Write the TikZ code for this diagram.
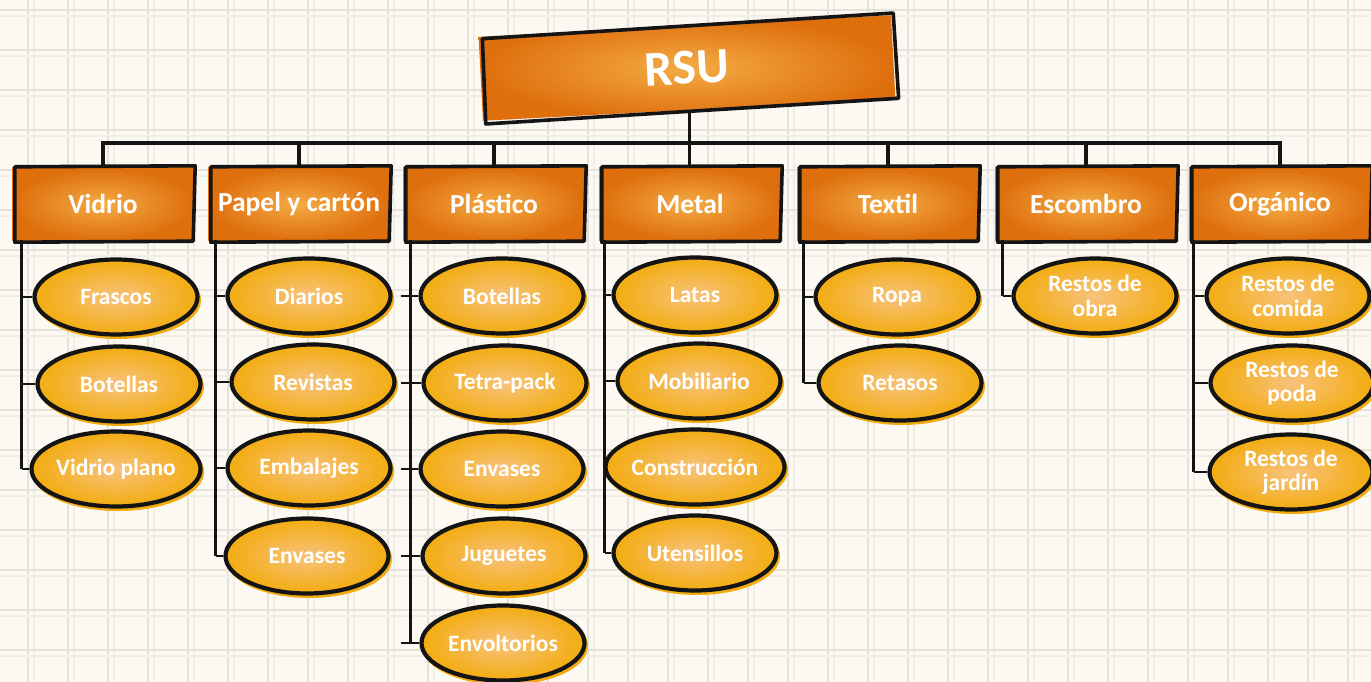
\documentclass[tikz,border=0pt]{standalone}
\usepackage{fontspec}
\setmainfont{Carlito}
\usetikzlibrary{calc,shapes.geometric}
\definecolor{paper}{HTML}{FCF9F3}
\definecolor{gridc}{HTML}{E5E1DB}
\definecolor{gridl}{HTML}{F1EDE7}
\definecolor{orEdge}{HTML}{DF6E0D}
\definecolor{orMid}{HTML}{F3AB45}
\definecolor{yeEdge}{HTML}{F3AC10}
\definecolor{yeMid}{HTML}{F7C27C}
\definecolor{ink}{HTML}{141414}
\tikzset{
  rootbox/.style={rectangle, minimum width=413pt, minimum height=84pt, inner sep=0pt,
    shading=radial, inner color=orMid, outer color=orEdge, text=white,
    font=\bfseries\fontsize{50}{50}\selectfont},
  catbox/.style={rectangle, minimum width=182pt, minimum height=72pt, inner sep=0pt,
    shading=radial, inner color=orMid, outer color=orEdge, text=white,
    font=\bfseries\fontsize{27.5}{27}\selectfont},
  leaf/.style={ellipse, minimum width=163pt, minimum height=75pt, inner sep=0pt,
    draw=ink, line width=4.2pt, shading=radial, inner color=yeMid, outer color=yeEdge,
    preaction={draw=yeEdge, line width=3pt, transform canvas={shift={(2pt,-3pt)}}},
    text=white, font=\bfseries\fontsize{23.5}{24.5}\selectfont, align=center},
  outline/.style={draw=ink, line width=3.6pt, line join=round},
  link/.style={draw=ink, line width=3.3pt},
  tick/.style={draw=ink, line width=2.4pt},
  gridmain/.style={draw=gridc, line width=1.8pt},
  gridsub/.style={draw=gridl, line width=1.4pt},
}
\newcommand\skbox[1]{\draw[outline] ($(#1.north west)+(3,-1)$) -- ($(#1.north east)+(1,-2)$) -- ($(#1.south east)+(-1,1)$) -- ($(#1.south west)+(3,2)$) -- cycle;}
\begin{document}
\begin{tikzpicture}[x=1pt,y=-1pt]
\useasboundingbox (0,0) rectangle (1371,682);
\fill[paper] (0,0) rectangle (1371,682);
\foreach \x in {28,68,...,1371} {\draw[gridsub] (\x+6,0) -- (\x+6,682); \draw[gridmain] (\x,0) -- (\x,682);}
\foreach \y in {10,50,...,682} {\draw[gridsub] (0,\y+6) -- (1371,\y+6); \draw[gridmain] (0,\y) -- (1371,\y);}

% root
\node[rootbox, rotate=3] (rsu) at (687,68) {RSU};
\draw[outline] ($(rsu.north west)+(4,2)$) -- ($(rsu.north east)+(2,-2)$) -- ($(rsu.south east)+(3,-1)$) -- ($(rsu.south west)+(3,3)$) -- cycle;

% categories
\node[catbox] (vid) at (103,204) {Vidrio};
\node[catbox] (pap) at (299,204) {Papel y cartón};
\node[catbox] (pla) at (494,204) {Plástico};
\node[catbox] (met) at (690,204) {Metal};
\node[catbox] (tex) at (888,204) {Textil};
\node[catbox] (esc) at (1086,204) {Escombro};
\node[catbox] (org) at (1280,204) {Orgánico};
\foreach \n in {vid,pap,pla,met,tex,esc,org} {\skbox{\n}}

% bus
\coordinate (bus) at (0,143);
\draw[link] (vid.north) -- (vid.north |- bus) -- (org.north |- bus) -- (org.north);
\foreach \n in {pap,pla,tex,esc} {\draw[link] (\n.north) -- (\n.north |- bus);}
\draw[link] (rsu.south) -- (rsu.south |- met.north);

% leaves
\node[leaf] (v1) at (116,297) {Frascos};
\node[leaf] (v2) at (119,384) {Botellas};
\node[leaf] (v3) at (116,469) {Vidrio plano};

\node[leaf] (p1) at (309,296) {Diarios};
\node[leaf] (p2) at (313,382) {Revistas};
\node[leaf] (p3) at (309,468) {Embalajes};
\node[leaf] (p4) at (307,556) {Envases};

\node[leaf] (l1) at (502,296) {Botellas};
\node[leaf] (l2) at (505,383) {Tetra-pack};
\node[leaf] (l3) at (502,469) {Envases};
\node[leaf] (l4) at (504,556) {Juguetes};
\node[leaf] (l5) at (503,643) {Envoltorios};

\node[leaf] (m1) at (695,295) {Latas};
\node[leaf] (m2) at (699,381) {Mobiliario};
\node[leaf] (m3) at (695,467) {Construcción};
\node[leaf] (m4) at (695,553) {Utensillos};

\node[leaf] (t1) at (897,297) {Ropa};
\node[leaf] (t2) at (900,383) {Retasos};

\node[leaf] (e1) at (1095,296) {Restos de\\obra};

\node[leaf] (o1) at (1288,296) {Restos de\\comida};
\node[leaf] (o2) at (1292,383) {Restos de\\poda};
\node[leaf] (o3) at (1291,472) {Restos de\\jardín};

% column lines
\coordinate (vidL) at ($(vid.south west)+(10,0)$);
\coordinate (papL) at ($(pap.south west)+(8,0)$);
\coordinate (plaL) at ($(pla.south west)+(8,0)$);
\coordinate (metL) at ($(met.south west)+(6,0)$);
\coordinate (texL) at ($(tex.south west)+(7,0)$);
\coordinate (escL) at ($(esc.south west)+(8,0)$);
\coordinate (orgL) at ($(org.south west)+(5,0)$);

\draw[link] (vidL) -- (vidL |- v3.west);
\draw[link] (papL) -- (papL |- p4.west);
\draw[link] (plaL) -- (plaL |- l5.west);
\draw[link] (metL) -- (metL |- m4.west);
\draw[link] (texL) -- (texL |- t2.west);
\draw[link] (escL) -- (escL |- e1.west);
\draw[link] (orgL) -- (orgL |- o3.west);

\foreach \e in {v1,v2,v3} {\draw[tick] (vidL |- \e.west) -- (\e.west);}
\foreach \e in {p1,p2,p3,p4} {\draw[tick] (papL |- \e.west) -- (\e.west);}
\foreach \e in {l1,l2,l3,l4,l5} {\draw[tick] ($(plaL |- \e.west)+(-10,0)$) -- (\e.west);}
\foreach \e in {m1,m2,m3,m4} {\draw[tick] (metL |- \e.west) -- (\e.west);}
\foreach \e in {t1,t2} {\draw[tick] (texL |- \e.west) -- (\e.west);}
\draw[tick] (escL |- e1.west) -- (e1.west);
\foreach \e in {o1,o2,o3} {\draw[tick] (orgL |- \e.west) -- (\e.west);}
\end{tikzpicture}
\end{document}
